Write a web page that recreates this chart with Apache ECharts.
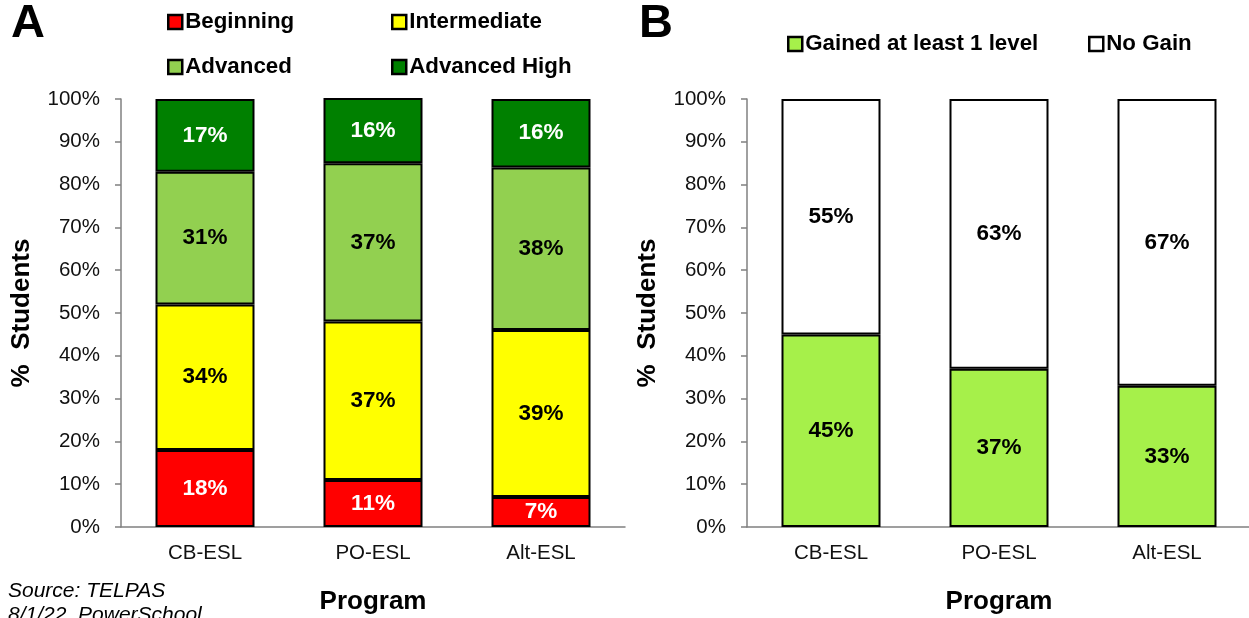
<!DOCTYPE html>
<html>
<head>
<meta charset="utf-8">
<style>
  html, body { margin: 0; padding: 0; background: #fff; }
  #chart { width: 1249px; height: 618px; }
</style>
<script src="https://cdn.jsdelivr.net/npm/echarts@6/dist/echarts.min.js"></script>
</head>
<body>
<div id="chart"></div>
<script>
// Programs on the x axis (both panels)
const programs = ['CB-ESL', 'PO-ESL', 'Alt-ESL'];
const yTicks = ['0%', '10%', '20%', '30%', '40%', '50%', '60%', '70%', '80%', '90%', '100%'];

// Panel A: TELPAS proficiency levels, % of students
const beginning = [18, 11, 7];
const intermediate = [34, 37, 39];
const advanced = [31, 37, 38];
const advancedHigh = [17, 16, 16];

// Panel B: level gain, % of students
const gained = [45, 37, 33];
const noGain = [55, 63, 67];

const FONT = '"Liberation Sans", Arial, sans-serif';

function yAxisFor(gridIndex) {
  return {
    type: 'value', gridIndex, min: 0, max: 100, interval: 10,
    name: '%  Students', nameLocation: 'middle', nameGap: 86,
    nameTextStyle: { fontFamily: FONT, fontSize: 26, fontWeight: 'bold', color: '#000' },
    axisLine: { show: true, lineStyle: { color: '#808080', width: 1.5 } },
    axisTick: { show: true, length: 6, lineStyle: { color: '#808080', width: 1.5 } },
    splitLine: { show: false },
    axisLabel: {
      fontFamily: FONT, fontSize: 20.5, color: '#111', margin: 21,
      formatter: v => yTicks[Math.round(v / 10)]
    }
  };
}

function xAxisFor(gridIndex) {
  return {
    type: 'category', gridIndex, data: programs,
    name: 'Program', nameLocation: 'middle', nameGap: 62,
    nameTextStyle: { fontFamily: FONT, fontSize: 26, fontWeight: 'bold', color: '#000' },
    axisLine: { show: true, lineStyle: { color: '#808080', width: 1.5 } },
    axisTick: { show: false },
    axisLabel: { fontFamily: FONT, fontSize: 20.5, color: '#111', margin: 16 }
  };
}

function barSeries(name, data, color, labelColor, axisIdx, stack) {
  return {
    name, type: 'bar', data, stack,
    xAxisIndex: axisIdx, yAxisIndex: axisIdx,
    barWidth: 99,
    itemStyle: { color, borderColor: '#000', borderWidth: 2 },
    label: {
      show: true, position: 'inside',
      fontFamily: FONT, fontSize: 22.5, fontWeight: 'bold', color: labelColor,
      formatter: p => p.value + '%'
    },
    emphasis: { disabled: true }
  };
}

function legendAt(name, left, top) {
  return {
    data: [name], left, top, orient: 'horizontal', padding: 0,
    icon: 'rect', itemWidth: 14, itemHeight: 14,
    itemStyle: { borderWidth: 2.5, borderColor: '#000' },
    textStyle: { fontFamily: FONT, fontSize: 22.3, fontWeight: 'bold', color: '#000', padding: [0, 0, 0, -2] },
    selectedMode: false
  };
}

const chart = echarts.init(document.getElementById('chart'), null, { renderer: 'canvas' });

chart.setOption({
  animation: false,
  backgroundColor: '#fff',
  grid: [
    { left: 121, top: 99, width: 504, height: 428, outerBoundsMode: 'none', containLabel: false },
    { left: 747, top: 99, width: 504, height: 428, outerBoundsMode: 'none', containLabel: false }
  ],
  xAxis: [xAxisFor(0), xAxisFor(1)],
  yAxis: [yAxisFor(0), yAxisFor(1)],
  legend: [
    legendAt('Beginning', 167, 11),
    legendAt('Intermediate', 391, 11),
    legendAt('Advanced', 167, 56),
    legendAt('Advanced High', 391, 56),
    legendAt('Gained at least 1 level', 787, 33),
    legendAt('No Gain', 1088, 33)
  ],
  series: [
    barSeries('Beginning', beginning, '#FF0000', '#fff', 0, 'a'),
    barSeries('Intermediate', intermediate, '#FFFF00', '#000', 0, 'a'),
    barSeries('Advanced', advanced, '#92D050', '#000', 0, 'a'),
    barSeries('Advanced High', advancedHigh, '#008000', '#fff', 0, 'a'),
    barSeries('Gained at least 1 level', gained, '#A6F04A', '#000', 1, 'b'),
    barSeries('No Gain', noGain, '#FFFFFF', '#000', 1, 'b')
  ],
  graphic: [
    { type: 'text', left: 11, top: 1, style: { text: 'A', font: 'bold 47px ' + FONT, fill: '#000' } },
    { type: 'text', left: 639, top: 1, style: { text: 'B', font: 'bold 47px ' + FONT, fill: '#000' } },
    { type: 'text', left: 8, top: 581, style: { text: 'Source: TELPAS', font: 'italic 21px ' + FONT, fill: '#000' } },
    { type: 'text', left: 8, top: 605, style: { text: '8/1/22, PowerSchool', font: 'italic 21px ' + FONT, fill: '#000' } }
  ]
});
</script>
</body>
</html>
